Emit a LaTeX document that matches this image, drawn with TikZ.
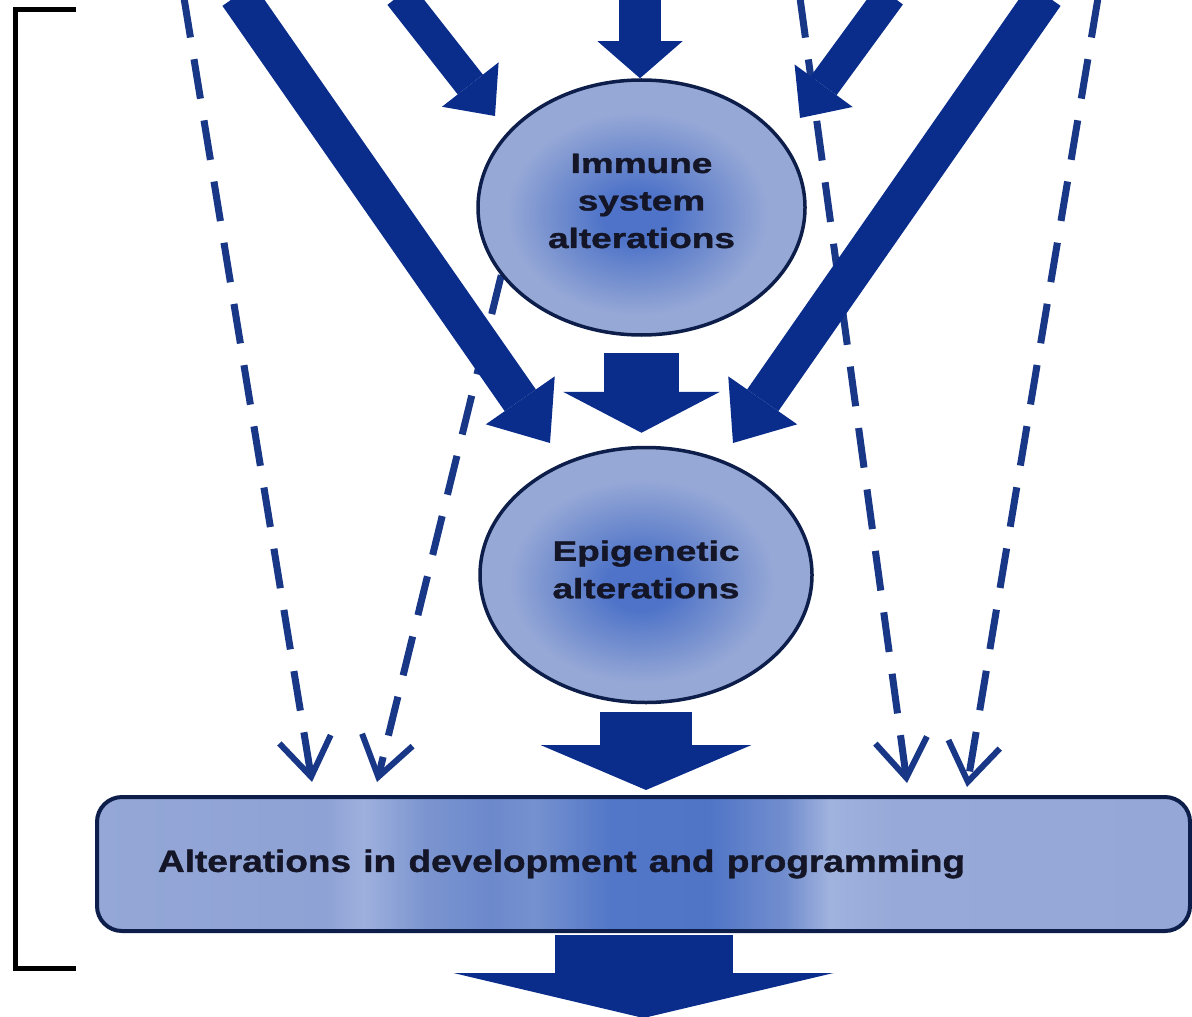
\documentclass[tikz,border=0pt]{standalone}
\usepackage{fontspec}
\setmainfont{Liberation Sans}[BoldFeatures={FakeBold=1.2}]
\usepackage{graphicx}
\usetikzlibrary{arrows.meta,shapes.geometric}
\definecolor{arrowblue}{RGB}{10,45,140}
\definecolor{dashblue}{RGB}{25,55,135}
\definecolor{navy}{RGB}{14,30,75}
\definecolor{eDark}{RGB}{78,115,200}
\definecolor{eMid}{RGB}{112,140,206}
\definecolor{eLight}{RGB}{150,168,214}
\definecolor{rL}{RGB}{148,167,214}
\definecolor{rA}{RGB}{142,162,213}
\definecolor{rBand}{RGB}{158,176,221}
\definecolor{rB}{RGB}{124,149,208}
\definecolor{rC}{RGB}{108,137,204}
\definecolor{rE}{RGB}{118,145,207}
\definecolor{rD}{RGB}{82,119,200}
\definecolor{rDD}{RGB}{80,117,199}
\definecolor{rF}{RGB}{114,142,206}
\definecolor{rBandB}{RGB}{160,178,222}
\definecolor{rG}{RGB}{150,169,216}
\definecolor{textc}{RGB}{20,22,40}
\pgfdeclareradialshading{ellshade}{\pgfpoint{-1bp}{-2bp}}{color(0bp)=(eDark); color(5bp)=(eDark); color(12bp)=(eMid); color(20bp)=(eLight); color(50bp)=(eLight)}
\pgfdeclarehorizontalshading{devshade}{100bp}{color(0bp)=(rL); color(25bp)=(rL); color(35.5bp)=(rA); color(37.2bp)=(rBand); color(40bp)=(rB); color(43bp)=(rC); color(45bp)=(rE); color(48.5bp)=(rD); color(53bp)=(rDD); color(56.5bp)=(rF); color(58.5bp)=(rBandB); color(61.5bp)=(rG); color(75bp)=(rL); color(100bp)=(rL)}
\begin{document}
\begin{tikzpicture}[x=0.5pt,y=-0.5pt,
  ell/.style={ellipse, draw=navy, line width=1.75pt, shading=ellshade, inner sep=0pt, text=textc, font=\bfseries\fontsize{14}{18.75}\selectfont},
  devbox/.style={rectangle, rounded corners=12.5pt, draw=navy, line width=2pt, shading=devshade, minimum height=67pt, inner xsep=30.5pt, inner ysep=0pt, text width=485.5pt, align=left, text=textc, font=\bfseries\fontsize{15.4}{18}\selectfont},
  dasharrow/.style={draw=dashblue, line width=3.5pt, dash pattern=on 20pt off 11pt, -{Straight Barb[length=19pt,width=26pt,line width=3pt]}},
  bigarrow/.style n args={3}{draw=arrowblue, line width=#1, -{Triangle[width=#2,length=#3,line width=0pt]}},
  bracket/.style={draw=black, line width=2.5pt}]
\useasboundingbox (0,0) rectangle (1192,1016);
% bracket
\coordinate (brT) at (76,10);
\coordinate (brTL) at (15,10);
\coordinate (brBL) at (15,968);
\coordinate (brB) at (76,968);
\draw[bracket] (brT) -- (brTL) -- (brBL) -- (brB);
% dashed arrow hidden behind ellipse
\coordinate (d2s) at (516,215);
\coordinate (d2t) at (377,782);
\draw[dasharrow] (d2s) -- (d2t);
% nodes
\node[ell, minimum width=163.5pt, minimum height=127.5pt] (imm) at (641.5,207.5)
  {\raisebox{2.25pt}[\height][\depth]{\scalebox{1.32}[1]{\begin{tabular}{@{}c@{}}Immune\\system\\alterations\end{tabular}}}};
\node[ell, minimum width=166pt, minimum height=127.5pt] (epi) at (646,575)
  {\raisebox{1.5pt}[\height][\depth]{\scalebox{1.32}[1]{\begin{tabular}{@{}c@{}}Epigenetic\\alterations\end{tabular}}}};
\node[devbox] (dev) at (643.5,864) {\scalebox{1.2}[1]{Alterations in development and programming}};
% other dashed arrows
\coordinate (d1s) at (184,-2);
\coordinate (d1t) at (312,782);
\coordinate (d3s) at (800,-2);
\coordinate (d3t) at (907,783);
\coordinate (d4s) at (1098,-2);
\coordinate (d4t) at (967,787);
\draw[dasharrow] (d1s) -- (d1t);
\draw[dasharrow] (d3s) -- (d3t);
\draw[dasharrow] (d4s) -- (d4t);
% diagonal solid arrows
\coordinate (l1s) at (238,-5);
\coordinate (l1t) at (550,443);
\coordinate (r1s) at (1045,-5);
\coordinate (r1t) at (733,443);
\coordinate (l2s) at (400,-5);
\coordinate (l2t) at (495,116);
\coordinate (r2s) at (890,-5);
\coordinate (r2t) at (800,118);
\draw[bigarrow={19pt}{42pt}{26pt}] (l1s) -- (l1t);
\draw[bigarrow={19pt}{42pt}{26pt}] (r1s) -- (r1t);
\draw[bigarrow={16pt}{36pt}{20pt}] (l2s) -- (l2t);
\draw[bigarrow={16pt}{36pt}{20pt}] (r2s) -- (r2t);
% block arrows
\coordinate (topstart) at (640,-5);
\coordinate (bottip) at (643.5,1018);
\draw[bigarrow={21pt}{42.5pt}{18.5pt}] (topstart) -- (imm.north -| topstart);
\draw[bigarrow={37.5pt}{78.5pt}{20.5pt}, shorten <=8pt, shorten >=6.5pt] (imm.south) -- (imm.south |- epi.north);
\draw[bigarrow={46pt}{105.5pt}{22.5pt}, shorten <=4pt, shorten >=2.5pt] (epi.south) -- (epi.south |- dev.north);
\draw[bigarrow={89pt}{190pt}{22.5pt}, shorten <=1pt] (dev.south) -- (dev.south |- bottip);
\end{tikzpicture}
\end{document}
